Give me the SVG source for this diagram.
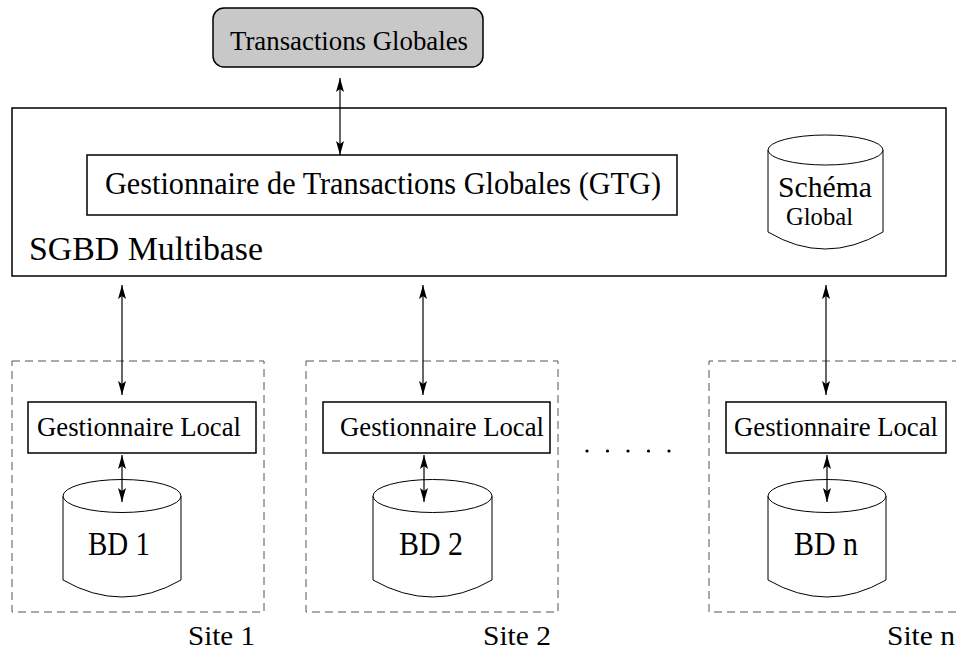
<svg xmlns="http://www.w3.org/2000/svg" width="956" height="652" viewBox="0 0 956 652">
<defs>
<marker id="ah" viewBox="0 0 14 8" markerWidth="14" markerHeight="8" refX="14" refY="4" orient="auto-start-reverse" markerUnits="userSpaceOnUse">
<path d="M0,0 L14,4 L0,8 L3,4 z" fill="#000"/>
</marker>
</defs>
<style>
text{font-family:"Liberation Serif","Times New Roman",serif;fill:#000}
.box{fill:#fff;stroke:#000;stroke-width:1.5}
.site{fill:none;stroke:#555;stroke-width:1;stroke-dasharray:8,5}
.cyl{fill:#fff;stroke:#000;stroke-width:1}
.con{stroke:#000;stroke-width:1.2;fill:none;marker-start:url(#ah);marker-end:url(#ah)}
</style>
<rect width="956" height="652" fill="#fff"/>

<g id="transactions">
<rect x="213" y="8" width="270" height="59" rx="11" ry="11" fill="#c8c8c8" stroke="#000" stroke-width="1.5"/>
<text x="230" y="50" font-size="27" textLength="238" lengthAdjust="spacingAndGlyphs">Transactions Globales</text>
</g>

<g id="sgbd">
<rect x="12" y="108" width="934" height="168" fill="none" stroke="#000" stroke-width="1.5"/>
<text x="29" y="260" font-size="33" textLength="234" lengthAdjust="spacingAndGlyphs">SGBD Multibase</text>
</g>

<g id="gtg">
<rect class="box" x="87" y="155" width="590" height="60"/>
<text x="105" y="194" font-size="31" textLength="556" lengthAdjust="spacingAndGlyphs">Gestionnaire de Transactions Globales (GTG)</text>
</g>

<g id="schema">
<path class="cyl" d="M768,150 L768,232 Q825,266 883,232 L883,150"/>
<ellipse class="cyl" cx="825.5" cy="150" rx="57.5" ry="15"/>
<text x="778" y="197" font-size="29" textLength="94" lengthAdjust="spacingAndGlyphs">Schéma</text>
<text x="786" y="225" font-size="25" textLength="67" lengthAdjust="spacingAndGlyphs">Global</text>
</g>

<g id="site1">
<rect class="site" x="12" y="361" width="252" height="251"/>
<text x="188" y="645" font-size="27" textLength="67" lengthAdjust="spacingAndGlyphs">Site 1</text>
</g>
<g id="local1">
<rect class="box" x="28" y="402" width="228" height="51"/>
<text x="37" y="436" font-size="27" textLength="204" lengthAdjust="spacingAndGlyphs">Gestionnaire Local</text>
</g>
<g id="bd1">
<path class="cyl" d="M63,496 L63,580 Q122,614 181,580 L181,496"/>
<ellipse class="cyl" cx="122" cy="496" rx="59" ry="16.5"/>
<text x="88" y="555" font-size="33" textLength="62" lengthAdjust="spacingAndGlyphs">BD 1</text>
</g>

<g id="site2">
<rect class="site" x="306" y="361" width="252" height="251"/>
<text x="483" y="645" font-size="27" textLength="68" lengthAdjust="spacingAndGlyphs">Site 2</text>
</g>
<g id="local2">
<rect class="box" x="323" y="402" width="227" height="51"/>
<text x="340" y="436" font-size="27" textLength="204" lengthAdjust="spacingAndGlyphs">Gestionnaire Local</text>
</g>
<g id="bd2">
<path class="cyl" d="M373,496 L373,580 Q432.5,614 492,580 L492,496"/>
<ellipse class="cyl" cx="432.5" cy="496" rx="59.5" ry="16.5"/>
<text x="399" y="555" font-size="33" textLength="64" lengthAdjust="spacingAndGlyphs">BD 2</text>
</g>

<g id="dots" fill="#000">
<circle cx="587" cy="451" r="1.6"/>
<circle cx="607.5" cy="451" r="1.6"/>
<circle cx="628" cy="451" r="1.6"/>
<circle cx="648.5" cy="451" r="1.6"/>
<circle cx="669" cy="451" r="1.6"/>
</g>

<g id="siten">
<path class="site" d="M960,361 L709,361 L709,612 L960,612"/>
<text x="887" y="645" font-size="27" textLength="68" lengthAdjust="spacingAndGlyphs">Site n</text>
</g>
<g id="localn">
<rect class="box" x="726" y="402" width="220" height="51"/>
<text x="734" y="436" font-size="27" textLength="204" lengthAdjust="spacingAndGlyphs">Gestionnaire Local</text>
</g>
<g id="bdn">
<path class="cyl" d="M768,496 L768,580 Q827,614 886,580 L886,496"/>
<ellipse class="cyl" cx="827" cy="496" rx="59" ry="16.5"/>
<text x="794" y="555" font-size="33" textLength="64" lengthAdjust="spacingAndGlyphs">BD n</text>
</g>

<g id="connectors">
<line class="con" x1="340" y1="78" x2="340" y2="155"/>
<line class="con" x1="122" y1="285" x2="122" y2="395"/>
<line class="con" x1="423" y1="285" x2="423" y2="395"/>
<line class="con" x1="826" y1="285" x2="826" y2="395"/>
<line class="con" x1="122" y1="455" x2="122" y2="502"/>
<line class="con" x1="424" y1="455" x2="424" y2="502"/>
<line class="con" x1="827" y1="455" x2="827" y2="502"/>
</g>
</svg>
